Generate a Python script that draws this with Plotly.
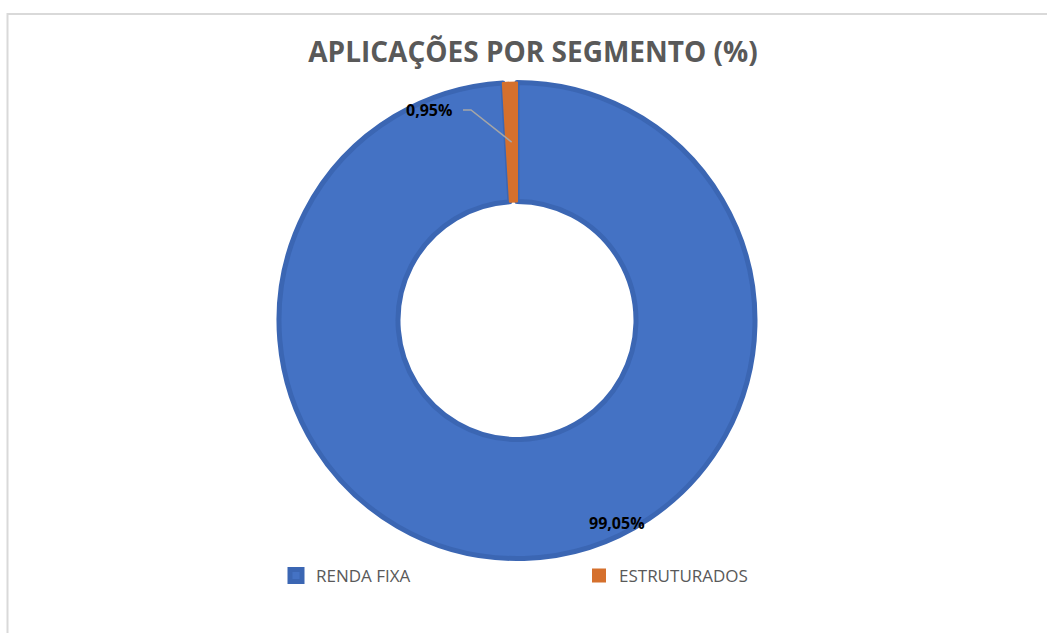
import math
import plotly.graph_objects as go

# ---------------- data ----------------
labels = ["RENDA FIXA", "ESTRUTURADOS"]
values = [99.05, 0.95]
label_texts = ["99,05%", "0,95%"]
slice_colors = ["#4472C4", "#D5702D"]
border_colors = ["#3B66B3", "#D5702D"]
title_text = "APLICAÇÕES POR SEGMENTO (%)"

# ---------------- layout constants (pixels) ----------------
W, H = 1047, 633
cx, cy = 517, 320.5      # donut centre, from top-left
R = 238                  # outer radius
hole = 0.5

def px(x):
    return x / W

def py(y):
    return (H - y) / H

fig = go.Figure(
    go.Pie(
        labels=labels,
        values=values,
        hole=hole,
        sort=False,
        direction="clockwise",
        rotation=0,
        marker=dict(colors=slice_colors,
                    line=dict(color=border_colors, width=[5, 2])),
        textinfo="none",
        hoverinfo="label+percent",
        domain=dict(x=[px(cx - R), px(cx + R)], y=[py(cy + R), py(cy - R)]),
    )
)

# anchor of the small slice's leader line, computed from data
total = sum(values)
start = sum(values[:1])
theta = 2 * math.pi * (start + values[1] / 2) / total
r_mid = R * (1 + hole) / 2
ax_ = cx + r_mid * math.sin(theta)
ay_ = cy - r_mid * math.cos(theta)

lbl_small = (429, 110)
lbl_big = (617, 523)

annotations = [
    dict(x=px(lbl_small[0]), y=py(lbl_small[1]), xref="paper", yref="paper",
         text="<b>" + label_texts[1] + "</b>", showarrow=False,
         font=dict(family="Open Sans", size=16, color="#000000"),
         xanchor="center", yanchor="middle"),
    dict(x=px(lbl_big[0]), y=py(lbl_big[1]), xref="paper", yref="paper",
         text="<b>" + label_texts[0] + "</b>", showarrow=False,
         font=dict(family="Open Sans", size=16, color="#000000"),
         xanchor="center", yanchor="middle"),
]

shapes = [
    # chart area border
    dict(type="rect", xref="paper", yref="paper",
         x0=px(7.5), x1=1.05, y0=-0.05, y1=py(14),
         line=dict(color="#D9D9D9", width=2), fillcolor="rgba(0,0,0,0)"),
    # leader line
    dict(type="path", xref="paper", yref="paper",
         path=f"M {px(463)} {py(110)} L {px(471)} {py(110)} L {px(ax_)} {py(ay_)}",
         line=dict(color="#A6A6A6", width=1.5)),
]

fig.update_layout(
    width=W, height=H,
    margin=dict(l=0, r=0, t=0, b=0),
    paper_bgcolor="white",
    plot_bgcolor="white",
    title=dict(text="<b>" + title_text + "</b>", x=px(533), y=py(52),
               xanchor="center", yanchor="middle",
               font=dict(family="Open Sans", size=28, color="#595959")),
    showlegend=True,
    legend=dict(orientation="h", x=px(276), y=py(576), xanchor="left", yanchor="middle",
                entrywidth=258, entrywidthmode="pixels",
                font=dict(family="Open Sans", size=17, color="#595959"),
                bgcolor="rgba(0,0,0,0)"),
    annotations=annotations,
    shapes=shapes,
)

fig.write_html("out.html",
               config={"displayModeBar": False},
               post_script="document.body.style.margin='0';document.body.style.overflow='hidden';")
